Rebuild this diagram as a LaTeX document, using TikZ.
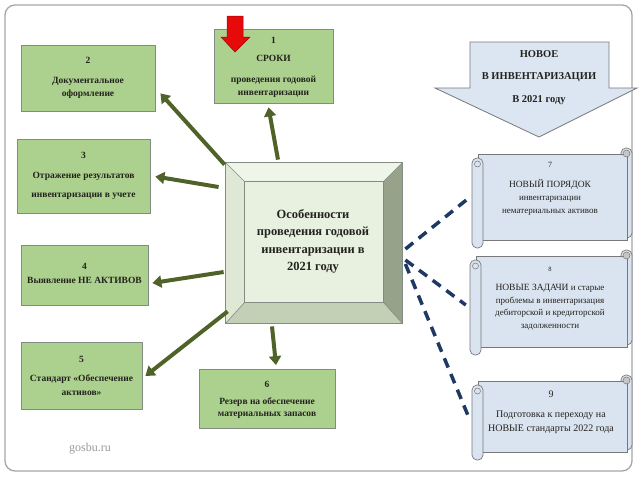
\documentclass[tikz,border=0pt]{standalone}
\usepackage{fontspec}
\setmainfont{Liberation Serif}
\usetikzlibrary{arrows.meta}
\definecolor{gfill}{RGB}{172,208,142}
\definecolor{gline}{RGB}{130,140,130}
\definecolor{garr}{RGB}{79,98,40}
\definecolor{navy}{RGB}{31,56,100}
\definecolor{bfill}{RGB}{220,230,242}
\definecolor{bline}{RGB}{120,120,120}
\definecolor{sfill}{RGB}{218,227,240}
\definecolor{face}{RGB}{232,240,224}
\definecolor{bevtop}{RGB}{240,245,234}
\definecolor{bevleft}{RGB}{222,232,212}
\definecolor{bevright}{RGB}{150,162,138}
\definecolor{bevbot}{RGB}{196,208,182}
\definecolor{redarr}{RGB}{230,10,10}
\definecolor{txt}{RGB}{35,35,30}
\tikzset{
  gbox/.style={draw=gline, fill=gfill, line width=0.8pt, inner sep=0pt},
  gtext/.style={align=center, inner sep=0pt, text=txt,
    font=\fontsize{9.5}{13}\selectfont\bfseries},
  garrow/.style={draw=garr, line width=4pt, -{Triangle[length=9pt,width=12pt]}},
  dashline/.style={draw=navy, line width=3.5pt, dash pattern=on 10pt off 7pt},
  scrollpart/.style={draw=bline, fill=sfill, line width=0.7pt},
  stext/.style={align=center, inner sep=0pt, text=txt, font=\fontsize{9}{13}\selectfont},
}
\newcommand\myscroll[4]{%
  \draw[scrollpart, rounded corners=5pt] (#3-11,#2) rectangle (#3,#4-10);
  \draw[scrollpart] (#1+6,#2+6) rectangle (#3-5,#4-8);
  \draw[scrollpart, rounded corners=5pt] (#1,#2+10) rectangle (#1+11,#4);
  \draw[bline, fill=gray!45, line width=0.5pt] (#3-5.5,#2+5.5) circle (3.5pt);
  \draw[bline, fill=sfill, line width=0.5pt] (#1+5.5,#2+16) circle (3pt);
}
\begin{document}
\begin{tikzpicture}[x=1pt,y=-1pt]
\useasboundingbox (0,0) rectangle (640,480);
% frame
\draw[gray!70, line width=1.3pt, rounded corners=10pt] (5,5) rectangle (632,471);

% center bevel box
\node[draw=gline, fill=face, line width=0.8pt, minimum width=176pt, minimum height=160pt] (c) at (314,243) {};
\fill[bevtop] (c.north west) -- (c.north east) -- ([shift={(-19,19)}]c.north east) -- ([shift={(19,19)}]c.north west) -- cycle;
\fill[bevleft] (c.north west) -- ([shift={(19,19)}]c.north west) -- ([shift={(19,-21)}]c.south west) -- (c.south west) -- cycle;
\fill[bevright] (c.north east) -- (c.south east) -- ([shift={(-19,-21)}]c.south east) -- ([shift={(-19,19)}]c.north east) -- cycle;
\fill[bevbot] (c.south west) -- ([shift={(19,-21)}]c.south west) -- ([shift={(-19,-21)}]c.south east) -- (c.south east) -- cycle;
\draw[gline, line width=0.6pt] ([shift={(19,19)}]c.north west) rectangle ([shift={(-19,-21)}]c.south east);
\draw[gline, line width=0.6pt] (c.north west) -- ([shift={(19,19)}]c.north west)
  (c.north east) -- ([shift={(-19,19)}]c.north east)
  (c.south west) -- ([shift={(19,-21)}]c.south west)
  (c.south east) -- ([shift={(-19,-21)}]c.south east);
\draw[gline, line width=0.8pt] (c.north west) rectangle (c.south east);
\node[align=center, inner sep=0pt, text=txt, font=\fontsize{12.5}{17.5}\selectfont\bfseries] (ct) at (313,241.5)
  {Особенности\\проведения годовой\\инвентаризации в\\2021 году};

% green boxes
\node[gbox, minimum width=119pt, minimum height=74pt] (b1) at (273.5,66) {};
\node[gtext] (b1t) at (273.5,67) {1\\[5pt]СРОКИ\\[8pt]проведения годовой\\инвентаризации};
\node[gbox, minimum width=134pt, minimum height=66pt] (b2) at (88,78) {};
\node[gtext] (b2t) at (88,77.5) {2\\[7pt]Документальное\\оформление};
\node[gbox, minimum width=133pt, minimum height=74pt] (b3) at (83.5,176.5) {};
\node[gtext] (b3t) at (83.5,175.5) {3\\[7pt]Отражение результатов\\[6pt]инвентаризации в учете};
\node[gbox, minimum width=127pt, minimum height=60pt] (b4) at (84.5,275) {};
\node[gtext] (b4t) at (84.5,273) {4\\[1pt]Выявление НЕ АКТИВОВ};
\node[gbox, minimum width=121pt, minimum height=67pt] (b5) at (81.5,376) {};
\node[gtext] (b5t) at (81.5,375.5) {5\\[6pt]Стандарт «Обеспечение\\[1pt]активов»};
\node[gbox, minimum width=136pt, minimum height=59pt] (b6) at (267,399) {};
\node[gtext] (b6t) at (267,400) {6\\[4pt]Резерв на обеспечение\\[-1pt]материальных запасов};

% green arrows
\draw[garrow] ([shift={(-36,-3)}]c.north) -- ([shift={(-5,4)}]b1.south);
\draw[garrow] ([shift={(-1,2)}]c.north west) -- ([shift={(5,-18)}]b2.south east);
\draw[garrow] ([shift={(-7,-56)}]c.west) -- ([shift={(5,0)}]b3.east);
\draw[garrow] ([shift={(-2,29)}]c.west) -- ([shift={(4,8)}]b4.east);
\draw[garrow] ([shift={(2,-12)}]c.south west) -- ([shift={(3,0)}]b5.east);
\draw[garrow] ([shift={(-42,3)}]c.south) -- ([shift={(9,-4)}]b6.north);

% red arrow
\draw[redarr!70!black, fill=redarr, line width=0.5pt]
  (227,16) -- (243,16) -- (243,37) -- (250,37) -- (235,52) -- (221,37) -- (227,37) -- cycle;

% big blue arrow
\draw[bline, fill=bfill, line width=0.8pt]
  (470,42) -- (609,42) -- (609,88) -- (637,88) -- (539,137) -- (435,88) -- (470,88) -- cycle;
\node[align=center, font=\fontsize{10.5}{22.5}\selectfont\bfseries, text=txt, inner sep=0pt] (newtxt) at (539,77.5)
  {НОВОЕ\\В ИНВЕНТАРИЗАЦИИ\\В 2021 году};

% scrolls
\myscroll{472}{148}{632}{248}
\node[minimum width=160pt, minimum height=100pt, inner sep=0pt] (s7) at (552,198) {};
\node[stext] (t7) at (550,189)
  {{\fontsize{8}{13}\selectfont 7}\\[7pt]{\fontsize{9.5}{13}\selectfont НОВЫЙ ПОРЯДОК}\\инвентаризации\\нематериальных активов};
\myscroll{470}{250}{632}{355}
\node[minimum width=162pt, minimum height=105pt, inner sep=0pt] (s8) at (551,302) {};
\node[stext, font=\fontsize{9}{12.5}\selectfont] (t8) at (550,298.5)
  {{\fontsize{6.5}{8}\selectfont 8}\\[6.5pt]{\fontsize{9.5}{12.5}\selectfont НОВЫЕ ЗАДАЧИ} и старые\\проблемы в инвентаризация\\дебиторской и кредиторской\\задолженности};
\myscroll{472}{375}{632}{460}
\node[minimum width=160pt, minimum height=85pt, inner sep=0pt] (s9) at (552,417) {};
\node[stext, font=\fontsize{10}{14}\selectfont] (t9) at (551,412.5)
  {9\\[6pt]Подготовка к переходу на\\НОВЫЕ стандарты 2022 года};

% dashed connectors
\draw[dashline] ([shift={(3,6)}]c.east) -- ([shift={(-3,0)}]s7.west);
\draw[dashline] ([shift={(3,17)}]c.east) -- ([shift={(-4,3)}]s8.west);
\draw[dashline] ([shift={(3,21)}]c.east) -- ([shift={(-4,-2)}]s9.west);

% footer
\node[text=gray!80, font=\fontsize{12}{14}\selectfont] (src) at (90,449) {gosbu.ru};
\end{tikzpicture}
\end{document}
